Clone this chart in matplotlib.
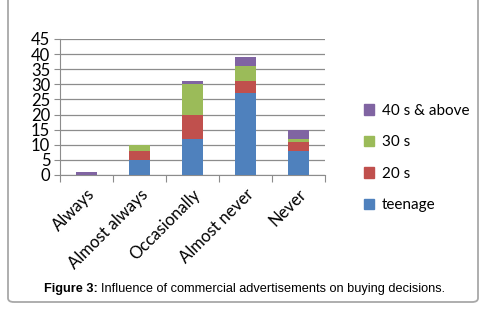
import matplotlib
matplotlib.use("Agg")
import matplotlib.pyplot as plt
from matplotlib.patches import FancyBboxPatch, Patch
import numpy as np

# dati
categorie = ["Always", "Almost always", "Occasionally", "Almost never", "Never"]
teenage = [0, 5, 12, 27, 8]
venti = [0, 3, 8, 4, 3]
trenta = [0, 2, 10, 5, 1]
quaranta = [1, 0, 1, 3, 3]
serie_nomi = ["teenage", "20 s", "30 s", "40 s & above"]
colori = ["#4F81BD", "#C0504D", "#9BBB59", "#8064A2"]

fig = plt.figure(figsize=(4.87, 3.21), dpi=100)

# cornice esterna arrotondata (il bordo superiore esce dall'immagine)
box = FancyBboxPatch((8 / 487, 1 - 302 / 321), 470 / 487, 320 / 321,
                     boxstyle="round,pad=0,rounding_size=0.012",
                     transform=fig.transFigure, fill=False,
                     edgecolor="#A8A8A8", linewidth=1.3)
fig.patches.append(box)

ax = fig.add_axes([60 / 487, 1 - 175 / 321, 265 / 487, 136 / 321])
x = np.arange(len(categorie))
serie = [teenage, venti, trenta, quaranta]
base = np.zeros(len(categorie))
for valori, colore, nome in zip(serie, colori, serie_nomi):
    ax.bar(x, valori, 0.4, bottom=base, color=colore, label=nome, zorder=3)
    base += np.array(valori)

ax.set_xlim(-0.5, 4.5)
ax.set_ylim(0, 45)
ax.set_yticks(range(0, 46, 5))
ax.yaxis.grid(True, color="#8C8C8C", linewidth=0.9, zorder=0)
for s in ["top", "right"]:
    ax.spines[s].set_visible(False)
ax.spines["left"].set_color("#8C8C8C")
ax.spines["bottom"].set_color("#8C8C8C")

ax.set_xticks(np.arange(-0.5, 4.6, 1.0))
ax.set_xticklabels([])
ax.set_xticks(x, minor=True)
ax.set_xticklabels(categorie, minor=True, rotation=45, ha="right",
                   rotation_mode="anchor", fontsize=12, family="Lato")
ax.tick_params(axis="x", which="major", length=5, color="#8C8C8C")
ax.tick_params(axis="x", which="minor", length=0, pad=8)
ax.tick_params(axis="y", length=4, color="#8C8C8C", labelsize=12, pad=3)
for t in ax.get_yticklabels():
    t.set_family("Lato")

handles = [Patch(color=c) for c in colori][::-1]
fig.legend(handles, serie_nomi[::-1], loc="center left",
           bbox_to_anchor=(350 / 487, 1 - 158 / 321), frameon=False,
           prop={"family": "Lato", "size": 11}, handlelength=0.7,
           handleheight=0.7, handletextpad=0.5, labelspacing=1.15)

fig.text(98 / 487, 1 - 289 / 321, "Figure 3:", ha="right", va="center",
         fontsize=9.2, fontweight="bold", family="Liberation Sans")
fig.text(101 / 487, 1 - 289 / 321,
         "Influence of commercial advertisements on buying decisions.",
         ha="left", va="center", fontsize=9.2, family="Liberation Sans")

fig.savefig("out.png", dpi=100)
